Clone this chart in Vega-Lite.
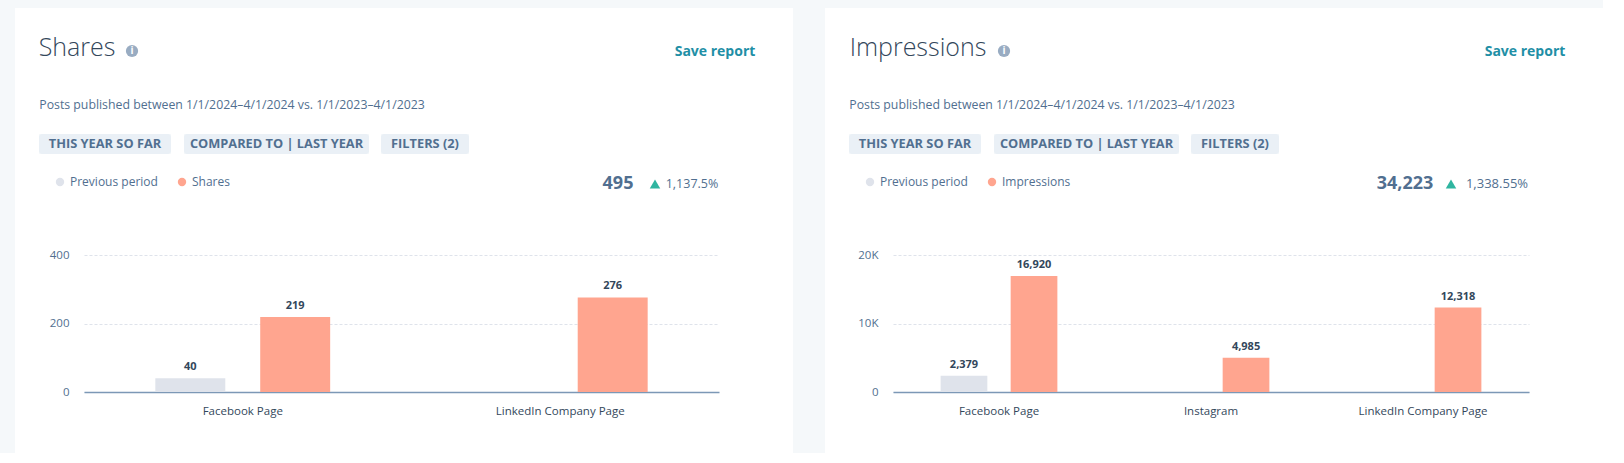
{"$schema":"https://vega.github.io/schema/vega-lite/v6.json","background":"#f5f8fa","padding":{"left":15,"top":8,"right":0,"bottom":0},"spacing":32,"resolve":{"scale":{"color":"independent","xOffset":"independent"},"legend":{"color":"independent"}},"config":{"view":{"fill":"#ffffff","stroke":null},"concat":{"spacing":0},"font":"Open Sans","text":{"font":"Open Sans"}},"datasets":{"blank":[{}],"shares":[{"page":"Facebook Page","series":"Previous period","value":40},{"page":"Facebook Page","series":"Shares","value":219},{"page":"LinkedIn Company Page","series":"Shares","value":276}],"impr":[{"page":"Facebook Page","series":"Previous period","value":2379},{"page":"Facebook Page","series":"Impressions","value":16920},{"page":"Instagram","series":"Impressions","value":4985},{"page":"LinkedIn Company Page","series":"Impressions","value":12318}]},"hconcat":[{"spacing":0,"vconcat":[{"spacing":0,"bounds":"flush","hconcat":[{"width":24,"height":80,"view":{"fill":"#ffffff"},"data":{"name":"blank"},"mark":"text","encoding":{}},{"width":76,"height":80,"view":{"fill":"#ffffff"},"data":{"values":[{"t":"Shares"}]},"mark":{"type":"text","fontSize":25,"fontWeight":300,"color":"#33475b"},"encoding":{"text":{"field":"t"}}},{"width":9,"height":80,"view":{"fill":"#ffffff"},"data":{"name":"blank"},"mark":"text","encoding":{}},{"width":16,"height":80,"view":{"fill":"#ffffff"},"data":{"values":[{"t":"i"}]},"layer":[{"mark":{"type":"point","filled":true,"size":150,"color":"#99acc2","opacity":1,"yOffset":3},"encoding":{}},{"mark":{"type":"text","fontSize":10,"fontWeight":"bold","color":"#ffffff","dy":3},"encoding":{"text":{"field":"t"}}}]},{"width":534,"height":80,"view":{"fill":"#ffffff"},"data":{"name":"blank"},"mark":"text","encoding":{}},{"width":82,"height":80,"view":{"fill":"#ffffff"},"data":{"values":[{"t":"Save report"}]},"mark":{"type":"text","fontSize":14,"fontWeight":"bold","color":"#1f8fa6","dy":4},"encoding":{"text":{"field":"t"}}},{"width":37,"height":80,"view":{"fill":"#ffffff"},"data":{"name":"blank"},"mark":"text","encoding":{}}]},{"spacing":0,"bounds":"flush","hconcat":[{"width":434,"height":34,"view":{"fill":"#ffffff"},"data":{"values":[{"t":"Posts published between 1/1/2024–4/1/2024 vs. 1/1/2023–4/1/2023"}]},"mark":{"type":"text","fontSize":12.3,"color":"#516f90"},"encoding":{"text":{"field":"t"}}},{"width":344,"height":34,"view":{"fill":"#ffffff"},"data":{"name":"blank"},"mark":"text","encoding":{}}]},{"width":778,"height":12,"view":{"fill":"#ffffff"},"data":{"name":"blank"},"mark":"text","encoding":{}},{"spacing":0,"bounds":"flush","hconcat":[{"width":24,"height":20,"view":{"fill":"#ffffff"},"data":{"name":"blank"},"mark":"text","encoding":{}},{"width":132,"height":20,"view":{"fill":"#eaf0f6","cornerRadius":3},"data":{"values":[{"t":"THIS YEAR SO FAR"}]},"mark":{"type":"text","fontSize":12.8,"fontWeight":"bold","color":"#516f90"},"encoding":{"text":{"field":"t"}}},{"width":13,"height":20,"view":{"fill":"#ffffff"},"data":{"name":"blank"},"mark":"text","encoding":{}},{"width":185,"height":20,"view":{"fill":"#eaf0f6","cornerRadius":3},"data":{"values":[{"t":"COMPARED TO | LAST YEAR"}]},"mark":{"type":"text","fontSize":12.8,"fontWeight":"bold","color":"#516f90"},"encoding":{"text":{"field":"t"}}},{"width":12,"height":20,"view":{"fill":"#ffffff"},"data":{"name":"blank"},"mark":"text","encoding":{}},{"width":88,"height":20,"view":{"fill":"#eaf0f6","cornerRadius":3},"data":{"values":[{"t":"FILTERS (2)"}]},"mark":{"type":"text","fontSize":12.8,"fontWeight":"bold","color":"#516f90"},"encoding":{"text":{"field":"t"}}},{"width":324,"height":20,"view":{"fill":"#ffffff"},"data":{"name":"blank"},"mark":"text","encoding":{}}]},{"width":778,"height":299,"resolve":{"scale":{"x":"independent","y":"independent"}},"layer":[{"data":{"name":"shares"},"encoding":{"x":{"field":"page","type":"nominal","title":null,"scale":{"domain":["Facebook Page","LinkedIn Company Page"],"range":[69,704],"paddingInner":0,"paddingOuter":0},"axis":{"labelAngle":0,"labelColor":"#33475b","labelFontSize":11.5,"labelPadding":13,"ticks":false,"domainColor":"#7c98b6","domainWidth":1.5,"offset":-61,"grid":false}},"xOffset":{"field":"series","type":"nominal","scale":{"domain":["Previous period","Shares"],"paddingInner":0.333,"paddingOuter":0.68}},"y":{"field":"value","type":"quantitative","title":null,"scale":{"domain":[0,400],"range":[238,101],"nice":false},"axis":{"values":[0,200,400],"labelColor":"#516f90","labelFontSize":11.5,"labelPadding":15,"ticks":false,"domain":false,"offset":-69,"grid":true,"gridColor":"#dfe3eb","gridDash":[3,2]}}},"layer":[{"mark":{"type":"bar"},"encoding":{"color":{"field":"series","type":"nominal","title":null,"scale":{"domain":["Previous period","Shares"],"range":["#dfe3eb","#ffa58f"]},"legend":{"orient":"none","legendX":39,"legendY":168,"direction":"horizontal","symbolType":"circle","symbolSize":70,"labelFontSize":12,"labelColor":"#516f90","columnPadding":18}}}},{"mark":{"type":"text","baseline":"bottom","dy":-6,"fontSize":11,"fontWeight":"bold","color":"#33475b"},"encoding":{"text":{"field":"value","type":"quantitative","format":","}}}]},{"encoding":{"x":{"field":"kpi","type":"nominal","axis":null,"scale":{"domain":["total","arrow","change"],"type":"point","range":[603,677],"padding":0}},"y":{"field":"row","type":"nominal","axis":null,"scale":{"type":"point","range":[30,30]}}},"layer":[{"data":{"values":[{"kpi":"total","row":"kpi","t":"495"}]},"mark":{"type":"text","fontSize":18,"fontWeight":"bold","color":"#516f90"},"encoding":{"text":{"field":"t"}}},{"data":{"values":[{"kpi":"arrow","row":"kpi"}]},"mark":{"type":"point","shape":"triangle-up","filled":true,"size":110,"color":"#2fb5a0","opacity":1}},{"data":{"values":[{"kpi":"change","row":"kpi","t":"1,137.5%"}]},"mark":{"type":"text","fontSize":12.5,"color":"#516f90"},"encoding":{"text":{"field":"t"}}}]}]}]},{"spacing":0,"vconcat":[{"spacing":0,"bounds":"flush","hconcat":[{"width":24,"height":80,"view":{"fill":"#ffffff"},"data":{"name":"blank"},"mark":"text","encoding":{}},{"width":138,"height":80,"view":{"fill":"#ffffff"},"data":{"values":[{"t":"Impressions"}]},"mark":{"type":"text","fontSize":25,"fontWeight":300,"color":"#33475b"},"encoding":{"text":{"field":"t"}}},{"width":9,"height":80,"view":{"fill":"#ffffff"},"data":{"name":"blank"},"mark":"text","encoding":{}},{"width":16,"height":80,"view":{"fill":"#ffffff"},"data":{"values":[{"t":"i"}]},"layer":[{"mark":{"type":"point","filled":true,"size":150,"color":"#99acc2","opacity":1,"yOffset":3},"encoding":{}},{"mark":{"type":"text","fontSize":10,"fontWeight":"bold","color":"#ffffff","dy":3},"encoding":{"text":{"field":"t"}}}]},{"width":472,"height":80,"view":{"fill":"#ffffff"},"data":{"name":"blank"},"mark":"text","encoding":{}},{"width":82,"height":80,"view":{"fill":"#ffffff"},"data":{"values":[{"t":"Save report"}]},"mark":{"type":"text","fontSize":14,"fontWeight":"bold","color":"#1f8fa6","dy":4},"encoding":{"text":{"field":"t"}}},{"width":37,"height":80,"view":{"fill":"#ffffff"},"data":{"name":"blank"},"mark":"text","encoding":{}}]},{"spacing":0,"bounds":"flush","hconcat":[{"width":434,"height":34,"view":{"fill":"#ffffff"},"data":{"values":[{"t":"Posts published between 1/1/2024–4/1/2024 vs. 1/1/2023–4/1/2023"}]},"mark":{"type":"text","fontSize":12.3,"color":"#516f90"},"encoding":{"text":{"field":"t"}}},{"width":344,"height":34,"view":{"fill":"#ffffff"},"data":{"name":"blank"},"mark":"text","encoding":{}}]},{"width":778,"height":12,"view":{"fill":"#ffffff"},"data":{"name":"blank"},"mark":"text","encoding":{}},{"spacing":0,"bounds":"flush","hconcat":[{"width":24,"height":20,"view":{"fill":"#ffffff"},"data":{"name":"blank"},"mark":"text","encoding":{}},{"width":132,"height":20,"view":{"fill":"#eaf0f6","cornerRadius":3},"data":{"values":[{"t":"THIS YEAR SO FAR"}]},"mark":{"type":"text","fontSize":12.8,"fontWeight":"bold","color":"#516f90"},"encoding":{"text":{"field":"t"}}},{"width":13,"height":20,"view":{"fill":"#ffffff"},"data":{"name":"blank"},"mark":"text","encoding":{}},{"width":185,"height":20,"view":{"fill":"#eaf0f6","cornerRadius":3},"data":{"values":[{"t":"COMPARED TO | LAST YEAR"}]},"mark":{"type":"text","fontSize":12.8,"fontWeight":"bold","color":"#516f90"},"encoding":{"text":{"field":"t"}}},{"width":12,"height":20,"view":{"fill":"#ffffff"},"data":{"name":"blank"},"mark":"text","encoding":{}},{"width":88,"height":20,"view":{"fill":"#eaf0f6","cornerRadius":3},"data":{"values":[{"t":"FILTERS (2)"}]},"mark":{"type":"text","fontSize":12.8,"fontWeight":"bold","color":"#516f90"},"encoding":{"text":{"field":"t"}}},{"width":324,"height":20,"view":{"fill":"#ffffff"},"data":{"name":"blank"},"mark":"text","encoding":{}}]},{"width":778,"height":299,"resolve":{"scale":{"x":"independent","y":"independent"}},"layer":[{"data":{"name":"impr"},"encoding":{"x":{"field":"page","type":"nominal","title":null,"scale":{"domain":["Facebook Page","Instagram","LinkedIn Company Page"],"range":[68,704],"paddingInner":0,"paddingOuter":0},"axis":{"labelAngle":0,"labelColor":"#33475b","labelFontSize":11.5,"labelPadding":13,"ticks":false,"domainColor":"#7c98b6","domainWidth":1.5,"offset":-61,"grid":false}},"xOffset":{"field":"series","type":"nominal","scale":{"domain":["Previous period","Impressions"],"paddingInner":0.333,"paddingOuter":0.68}},"y":{"field":"value","type":"quantitative","title":null,"scale":{"domain":[0,20000],"range":[238,101],"nice":false},"axis":{"values":[0,10000,20000],"labelExpr":"datum.value === 0 ? '0' : (datum.value / 1000) + 'K'","labelColor":"#516f90","labelFontSize":11.5,"labelPadding":15,"ticks":false,"domain":false,"offset":-68,"grid":true,"gridColor":"#dfe3eb","gridDash":[3,2]}}},"layer":[{"mark":{"type":"bar"},"encoding":{"color":{"field":"series","type":"nominal","title":null,"scale":{"domain":["Previous period","Impressions"],"range":["#dfe3eb","#ffa58f"]},"legend":{"orient":"none","legendX":39,"legendY":168,"direction":"horizontal","symbolType":"circle","symbolSize":70,"labelFontSize":12,"labelColor":"#516f90","columnPadding":18}}}},{"mark":{"type":"text","baseline":"bottom","dy":-6,"fontSize":11,"fontWeight":"bold","color":"#33475b"},"encoding":{"text":{"field":"value","type":"quantitative","format":","}}}]},{"encoding":{"x":{"field":"kpi","type":"nominal","axis":null,"scale":{"domain":["total","arrow","change"],"type":"point","range":[580,672],"padding":0}},"y":{"field":"row","type":"nominal","axis":null,"scale":{"type":"point","range":[30,30]}}},"layer":[{"data":{"values":[{"kpi":"total","row":"kpi","t":"34,223"}]},"mark":{"type":"text","fontSize":18,"fontWeight":"bold","color":"#516f90"},"encoding":{"text":{"field":"t"}}},{"data":{"values":[{"kpi":"arrow","row":"kpi"}]},"mark":{"type":"point","shape":"triangle-up","filled":true,"size":110,"color":"#2fb5a0","opacity":1}},{"data":{"values":[{"kpi":"change","row":"kpi","t":"1,338.55%"}]},"mark":{"type":"text","fontSize":13,"color":"#516f90"},"encoding":{"text":{"field":"t"}}}]}]}]}]}
